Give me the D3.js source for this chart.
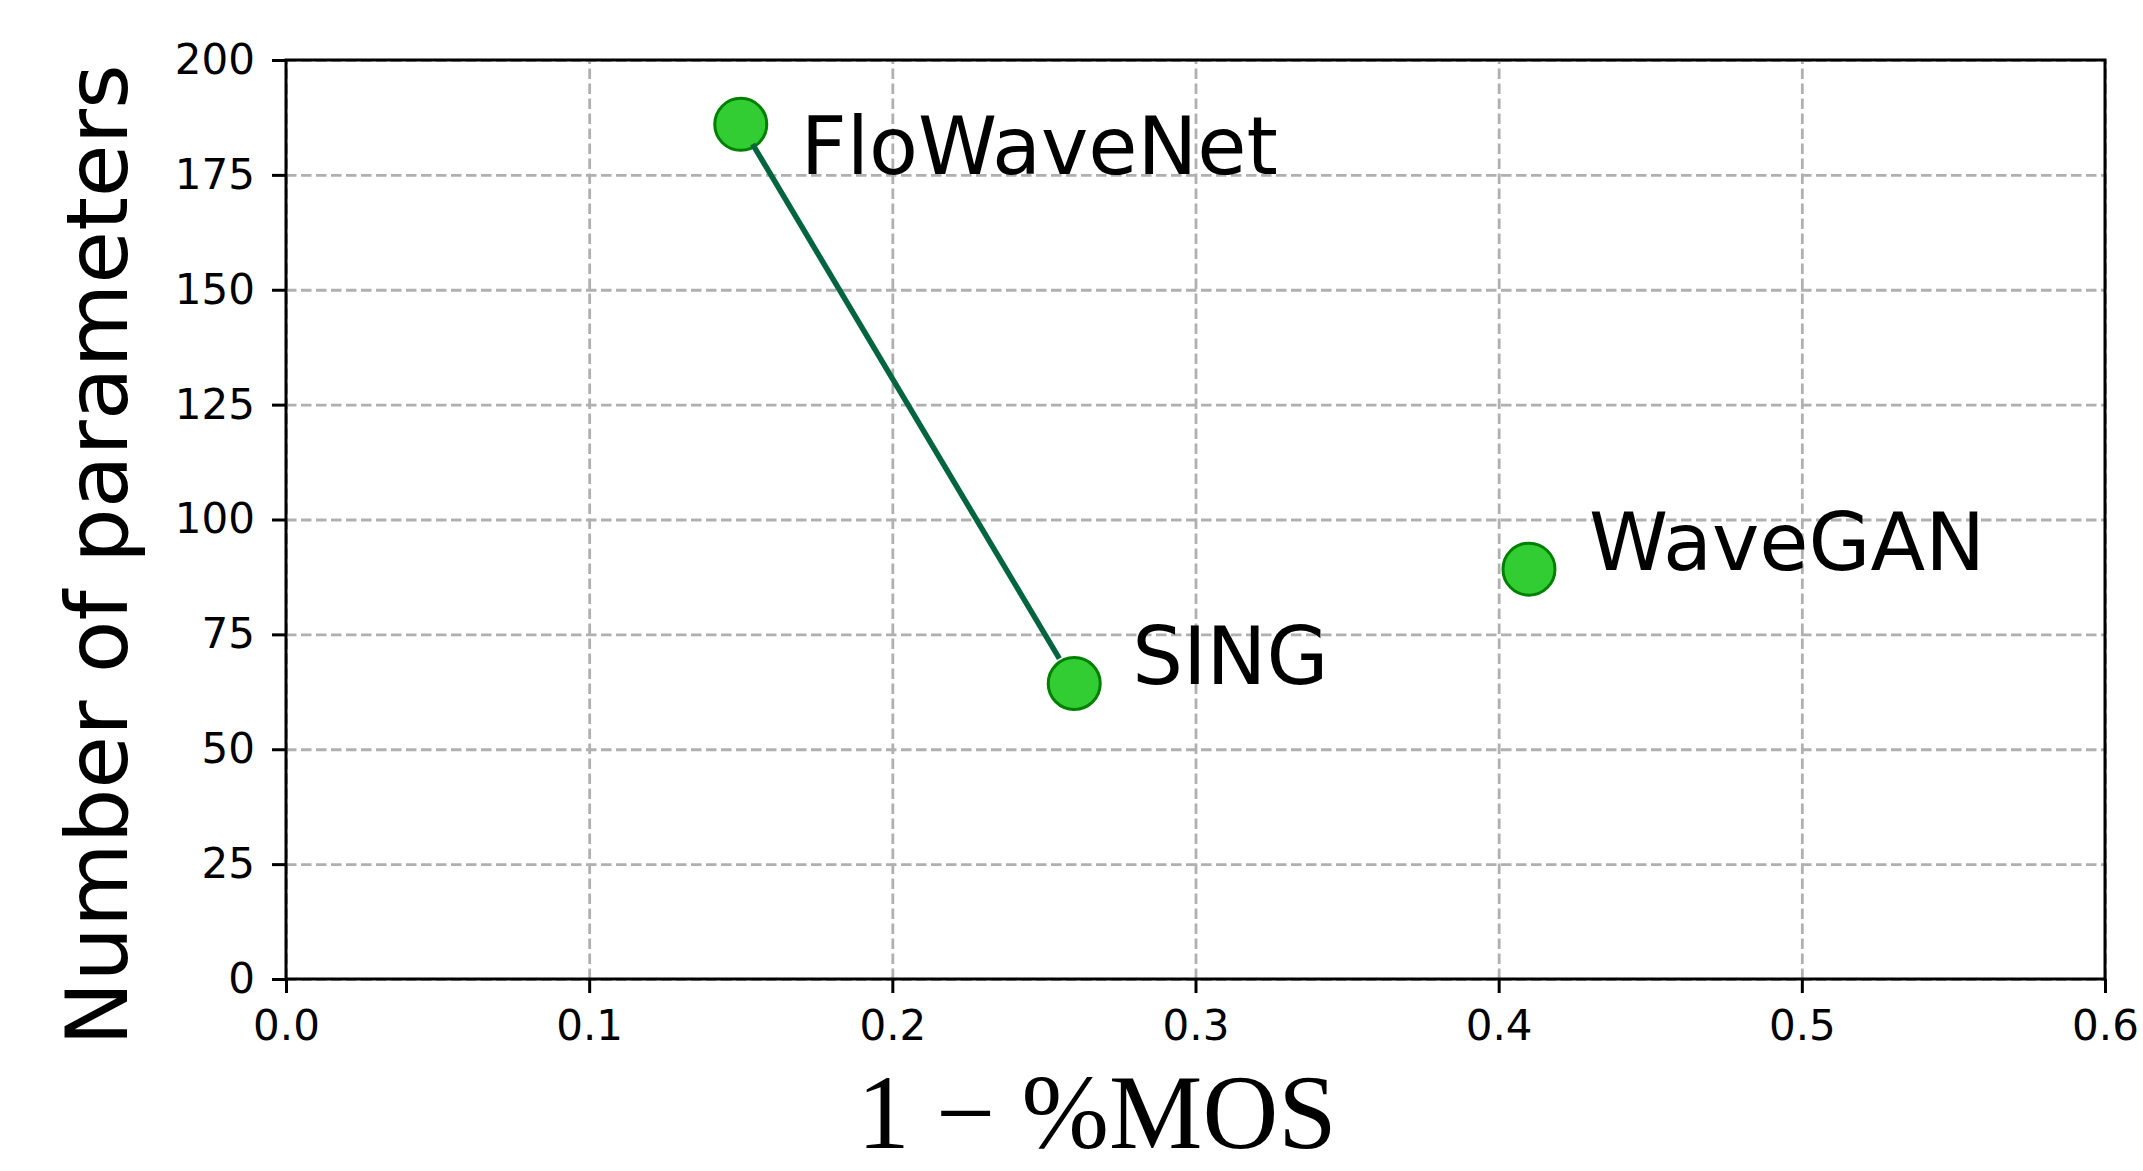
<!DOCTYPE html>
<html>
<head>
<meta charset="utf-8">
<script src="https://cdn.jsdelivr.net/npm/d3@7"></script>
<style>
    body { margin: 0; background: white; }
    svg { display: block; }
</style>
</head>
<body>
<svg id="chart1"></svg>
<script>
// values
var models = ["FloWaveNet", "SING", "WaveGAN"];
var mosLoss = [0.15, 0.26, 0.41];      // 1 - %MOS
var nParams = [186, 64.3, 89.2];       // number of parameters
var linkedModels = ["FloWaveNet", "SING"];
var xTicks = [0.0, 0.1, 0.2, 0.3, 0.4, 0.5, 0.6];
var yTicks = [0, 25, 50, 75, 100, 125, 150, 175, 200];

var dataset = models.map((m, i) => ({ name: m, x: mosLoss[i], y: nParams[i] }));

var dimensions = {
    width: 2143,
    height: 1171,
    margin: {
        top: 60,
        bottom: 192,
        right: 38,
        left: 286
    }
}

var xAccessor = d => d.x
var yAccessor = d => d.y

var svg = d3.select("#chart1")
            .attr("width", dimensions.width)
            .attr("height", dimensions.height);

var xScale = d3.scaleLinear()
    .domain([0, 0.6])
    .range([dimensions.margin.left, dimensions.width - dimensions.margin.right]);

var yScale = d3.scaleLinear()
    .domain([0, 200])
    .range([dimensions.height - dimensions.margin.bottom, dimensions.margin.top]);

var plotBottom = yScale.range()[0];
var plotTop = yScale.range()[1];
var plotLeft = xScale.range()[0];
var plotRight = xScale.range()[1];

// grid
svg.append("g")
    .attr("class", "grid")
    .attr("transform", `translate(0,${plotBottom})`)
    .call(d3.axisBottom(xScale).tickValues(xTicks).tickSize(-(plotBottom - plotTop)).tickFormat(""))
    .call(g => g.select(".domain").remove());

svg.append("g")
    .attr("class", "grid")
    .attr("transform", `translate(${plotLeft},0)`)
    .call(d3.axisLeft(yScale).tickValues(yTicks).tickSize(-(plotRight - plotLeft)).tickFormat(""))
    .call(g => g.select(".domain").remove());

svg.selectAll(".grid line")
    .attr("stroke", "#b0b0b0")
    .attr("stroke-width", 2.8)
    .attr("stroke-dasharray", "10.5,4.5");

// axes
var xAxis = svg.append("g")
    .attr("transform", `translate(0,${plotBottom})`)
    .call(d3.axisBottom(xScale).tickValues(xTicks).tickFormat(d3.format(".1f"))
        .tickSize(14).tickSizeOuter(0).tickPadding(17));

var yAxis = svg.append("g")
    .attr("transform", `translate(${plotLeft},0)`)
    .call(d3.axisLeft(yScale).tickValues(yTicks).tickFormat(d3.format("d"))
        .tickSize(14).tickSizeOuter(0).tickPadding(17));

[xAxis, yAxis].forEach(ax => {
    ax.select(".domain").remove();
    ax.selectAll(".tick line").attr("stroke", "black").attr("stroke-width", 3);
    ax.selectAll(".tick text")
        .attr("fill", "black")
        .style("font-family", "DejaVu Sans")
        .style("font-size", "42px");
});

// frame
svg.append("rect")
    .attr("x", plotLeft)
    .attr("y", plotTop)
    .attr("width", plotRight - plotLeft)
    .attr("height", plotBottom - plotTop)
    .attr("fill", "none")
    .attr("stroke", "black")
    .attr("stroke-width", 3);

// points
svg.append("g")
    .selectAll("circle")
    .data(dataset)
    .enter()
    .append("circle")
    .attr("cx", d => xScale(xAccessor(d)))
    .attr("cy", d => yScale(yAccessor(d)))
    .attr("r", 26)
    .attr("fill", "#32cd32")
    .attr("stroke", "#008000")
    .attr("stroke-width", 3);

// connecting line, shrunk at both ends like an annotate arrow
var a = dataset.find(d => d.name === linkedModels[0]);
var b = dataset.find(d => d.name === linkedModels[1]);
var ax0 = xScale(a.x), ay0 = yScale(a.y), bx0 = xScale(b.x), by0 = yScale(b.y);
var len = Math.hypot(bx0 - ax0, by0 - ay0);
var ux = (bx0 - ax0) / len, uy = (by0 - ay0) / len;
svg.append("line")
    .attr("x1", ax0 + ux * 23)
    .attr("y1", ay0 + uy * 23)
    .attr("x2", bx0 - ux * 29)
    .attr("y2", by0 - uy * 29)
    .attr("stroke", "#02653f")
    .attr("stroke-width", 5.5);

// labels
var labelOffsets = { FloWaveNet: [60, 50], SING: [58, 0], WaveGAN: [60, 1] };
svg.append("g")
    .selectAll("text")
    .data(dataset)
    .enter()
    .append("text")
    .attr("x", d => xScale(xAccessor(d)) + labelOffsets[d.name][0])
    .attr("y", d => yScale(yAccessor(d)) + labelOffsets[d.name][1])
    .style("font-family", "DejaVu Sans")
    .style("font-size", "80px")
    .attr("fill", "black")
    .text(d => d.name);

// axis titles
svg.append("text")
    .attr("x", 1097)
    .attr("y", 1148)
    .attr("text-anchor", "middle")
    .style("font-family", "Liberation Serif")
    .style("font-size", "105px")
    .attr("fill", "black")
    .text("1 \u2212 %MOS");

svg.append("text")
    .attr("transform", "translate(127,555) rotate(-90)")
    .attr("text-anchor", "middle")
    .style("font-family", "DejaVu Sans")
    .style("font-size", "86px")
    .attr("fill", "black")
    .text("Number of parameters");
</script>
</body>
</html>
